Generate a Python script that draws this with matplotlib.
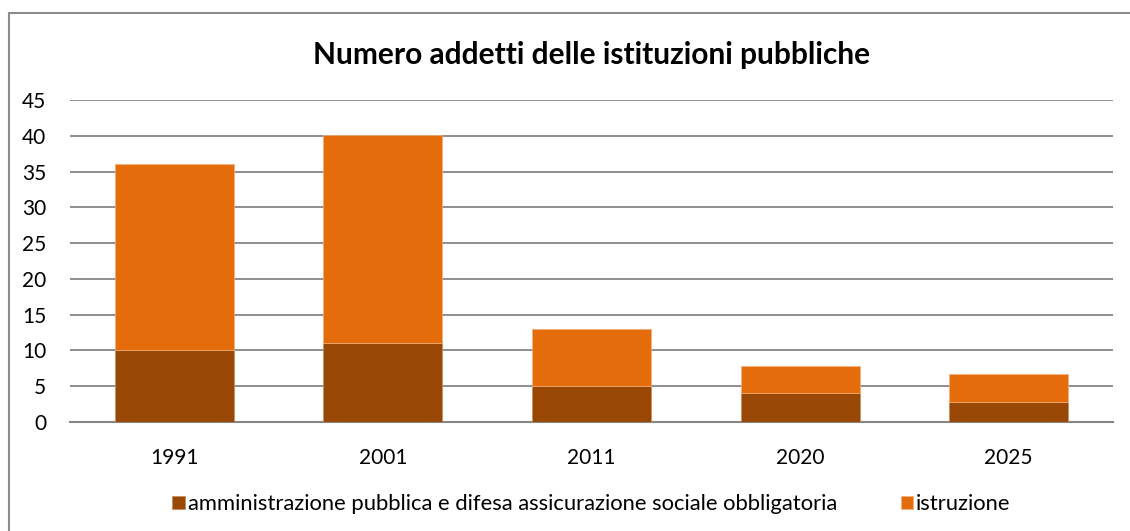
import numpy as np
import matplotlib.pyplot as plt
from matplotlib.lines import Line2D

plt.rcParams['font.family'] = ['Lato', 'DejaVu Sans']

# dati
anni = ['1991', '2001', '2011', '2020', '2025']
amministrazione = [10, 11, 5, 4, 2.75]
istruzione = [26, 29.1, 8, 3.8, 3.95]

col_amm = '#9A4806'
col_istr = '#E46C0A'
col_grid = '#868686'

fig = plt.figure(figsize=(11.3, 5.31), dpi=100)
ax = fig.add_axes([70/1130, 1-422/531, (1113-70)/1130, (422-100)/531])

# cornice esterna: solo bordo superiore e sinistro
x0, y0 = 8.5/1130, 1-12.5/531
fig.lines.append(Line2D([x0, 1], [y0, y0], transform=fig.transFigure, color='#8C8C8C', lw=1.5))
fig.lines.append(Line2D([x0, x0], [0, y0], transform=fig.transFigure, color='#8C8C8C', lw=1.5))

x = np.arange(len(anni))
w = 0.57
ax.bar(x, amministrazione, w, color=col_amm, edgecolor='#C88A5A', lw=0.5, zorder=3,
       label='amministrazione pubblica e difesa assicurazione sociale obbligatoria')
ax.bar(x, istruzione, w, bottom=amministrazione, color=col_istr, edgecolor='#F4B27A',
       lw=0.5, zorder=3, label='istruzione')

ax.set_xlim(-0.5, len(anni)-0.5)
ax.set_ylim(0, 45)
ax.set_yticks(np.arange(0, 46, 5))
ax.set_xticks(x)
ax.set_xticklabels(anni)
ax.yaxis.grid(True, color=col_grid, lw=1.3, zorder=0)
for s in ['top', 'right', 'left']:
    ax.spines[s].set_visible(False)
ax.spines['bottom'].set_color(col_grid)
ax.spines['bottom'].set_linewidth(1.5)
ax.tick_params(axis='both', length=0, labelsize=15, colors='#000000')
ax.tick_params(axis='y', pad=17)
ax.tick_params(axis='x', pad=19)

ax.set_title('Numero addetti delle istituzioni pubbliche', fontsize=21.5, fontweight='bold',
             pad=26, x=0.5)

leg = ax.legend(loc='center', bbox_to_anchor=(0.5, -0.255), ncol=2, frameon=False,
                fontsize=15.8, handlelength=0.55, handleheight=0.55, handletextpad=0.15,
                columnspacing=2.9)

fig.savefig('out.png', dpi=100)
